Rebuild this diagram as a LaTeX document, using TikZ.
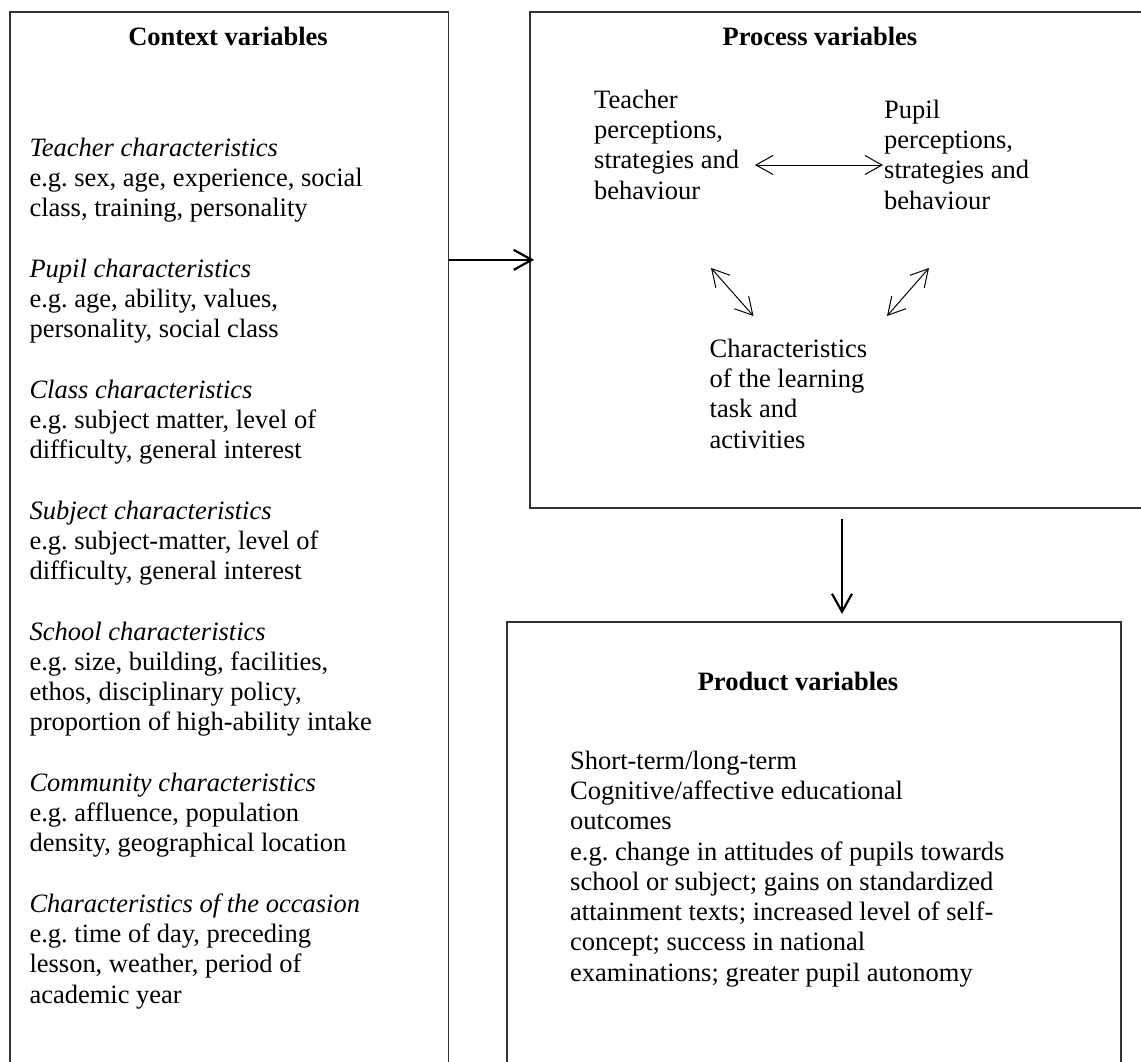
\documentclass[tikz,border=0pt]{standalone}
\usepackage{fontspec}
\setmainfont{Liberation Serif}
\usetikzlibrary{arrows.meta}
\begin{document}
\frenchspacing
\begin{tikzpicture}[x=1pt,y=-1pt,
  box/.style={draw=black!80, line width=1.7pt, inner sep=0pt, anchor=north west},
  txt/.style={anchor=base west, inner sep=0pt, align=left, font=\fontsize{26.5}{30.25}\selectfont\frenchspacing},
  ttl/.style={anchor=base, inner sep=0pt, font=\fontsize{26.5}{30.25}\selectfont\bfseries},
  bigarrow/.style={line width=2.2pt, -{Straight Barb[length=18pt,width=20pt,line width=2.2pt]}},
  twoway/.style={line width=1pt, {Straight Barb[length=17pt,width=19pt,line width=1pt]}-{Straight Barb[length=17pt,width=19pt,line width=1pt]}}
]
\useasboundingbox (0,0) rectangle (1141,1061);
\fill[white] (0,0) rectangle (1141,1061);
\clip (0,0) rectangle (1141,1061);

% boxes
\node[box, minimum width=438.4pt, minimum height=1100pt] (ctx) at (9.3,11) {};
\node[box, minimum width=700pt, minimum height=496pt] (proc) at (529,11) {};
\node[box, minimum width=614pt, minimum height=600pt] (prod) at (506,621) {};

% titles
\node[ttl] (ctxT) at (228,45) {Context variables};
\node[ttl] (procT) at (820,45) {Process variables};
\node[ttl] (prodT) at (798,690) {Product variables};

% context text (anchored at the baseline of its last line)
\node[txt] (ctxB) at (29.3,1003) {\textit{Teacher characteristics}\\
e.g. sex, age, experience, social\\
class, training, personality\\[30.25pt]
\textit{Pupil characteristics}\\
e.g. age, ability, values,\\
personality, social class\\[30.25pt]
\textit{Class characteristics}\\
e.g. subject matter, level of\\
difficulty, general interest\\[30.25pt]
\textit{Subject characteristics}\\
e.g. subject-matter, level of\\
difficulty, general interest\\[30.25pt]
\textit{School characteristics}\\
e.g. size, building, facilities,\\
ethos, disciplinary policy,\\
proportion of high-ability intake\\[30.25pt]
\textit{Community characteristics}\\
e.g. affluence, population\\
density, geographical location\\[30.25pt]
\textit{Characteristics of the occasion}\\
e.g. time of day, preceding\\
lesson, weather, period of\\
academic year};

% process text
\node[txt] (tch) at (594,199) {Teacher\\perceptions,\\strategies and\\behaviour};
\node[txt] (pup) at (884,209) {Pupil\\perceptions,\\strategies and\\behaviour};
\node[txt] (chr) at (709.5,448) {Characteristics\\of the learning\\task and\\activities};

% product text
\node[txt] (prodB) at (570,981) {Short-term/long-term\\
Cognitive/affective educational\\
outcomes\\
e.g. change in attitudes of pupils towards\\
school or subject; gains on standardized\\
attainment texts; increased level of self-\\
concept; success in national\\
examinations; greater pupil autonomy};

% arrow end points around the process texts
\coordinate (tchR) at (755,165);
\coordinate (pupL) at (883,165);
\coordinate (tchD) at (711,268);
\coordinate (chrL) at (753.5,316);
\coordinate (pupD) at (929,268);
\coordinate (chrR) at (887,316);
\coordinate (dx) at (842,0);

% connectors
\draw[bigarrow] (ctx.east |- proc.west) -- ([xshift=5pt]proc.west);
\draw[bigarrow] (proc.south -| dx) ++(0,10) -- ([yshift=7pt]prod.north -| dx);
\draw[twoway] (tchR) -- (pupL);
\draw[twoway] (tchD) -- (chrL);
\draw[twoway] (pupD) -- (chrR);
\end{tikzpicture}
\end{document}
